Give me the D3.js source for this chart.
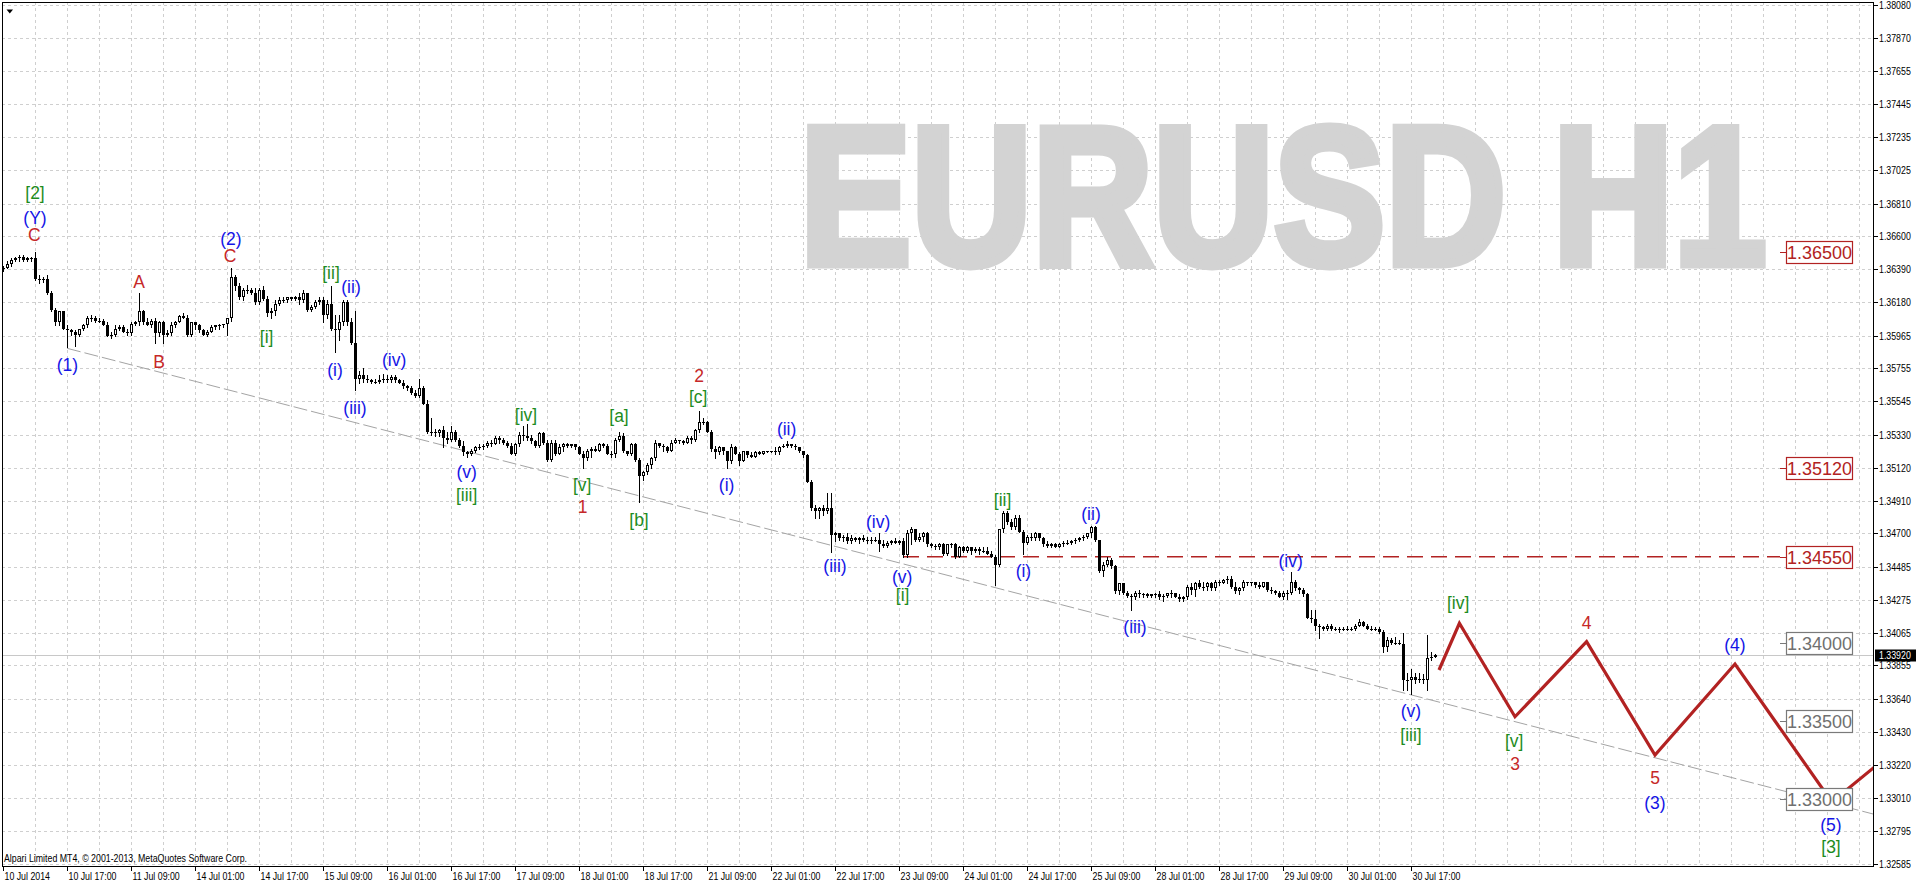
<!DOCTYPE html>
<html><head><meta charset="utf-8">
<script src="https://cdn.jsdelivr.net/npm/d3@7"></script>
<style>html,body{margin:0;padding:0;background:#fff;overflow:hidden}svg{display:block}</style>
</head><body>
<svg id="chart" width="1916" height="884"></svg>
<script>
// ---------------- DATA ----------------
const opens = [
1.3639,1.3640,1.3642,1.3645,1.3646,1.3647,1.3645,1.3646,1.3646,1.3633,
1.3632,1.3633,1.3624,1.3613,1.3605,1.3612,1.3601,1.3600,1.3599,1.3597,
1.3601,1.3603,1.3608,1.3608,1.3606,1.3606,1.3603,1.3596,1.3597,1.3601,
1.3602,1.3599,1.3598,1.3604,1.3605,1.3612,1.3605,1.3603,1.3606,1.3598,
1.3605,1.3597,1.3598,1.3603,1.3605,1.3609,1.3608,1.3597,1.3605,1.3603,
1.3600,1.3597,1.3599,1.3602,1.3603,1.3603,1.3604,1.3608,1.3634,1.3628,
1.3621,1.3626,1.3626,1.3624,1.3618,1.3626,1.3620,1.3611,1.3612,1.3617,
1.3619,1.3619,1.3621,1.3620,1.3621,1.3619,1.3624,1.3613,1.3615,1.3618,
1.3619,1.3610,1.3617,1.3601,1.3600,1.3605,1.3618,1.3605,1.3592,1.3569,
1.3571,1.3569,1.3568,1.3567,1.3567,1.3568,1.3569,1.3568,1.3570,1.3568,
1.3566,1.3564,1.3563,1.3560,1.3558,1.3563,1.3553,1.3535,1.3535,1.3534,
1.3536,1.3531,1.3530,1.3535,1.3530,1.3526,1.3522,1.3521,1.3523,1.3525,
1.3525,1.3526,1.3528,1.3527,1.3531,1.3530,1.3528,1.3526,1.3521,1.3527,
1.3533,1.3532,1.3531,1.3529,1.3526,1.3534,1.3528,1.3517,1.3528,1.3521,
1.3525,1.3527,1.3526,1.3527,1.3525,1.3521,1.3518,1.3523,1.3524,1.3523,
1.3527,1.3526,1.3521,1.3521,1.3530,1.3532,1.3523,1.3521,1.3527,1.3517,
1.3507,1.3509,1.3514,1.3518,1.3528,1.3526,1.3525,1.3523,1.3528,1.3530,
1.3529,1.3528,1.3531,1.3530,1.3536,1.3541,1.3541,1.3535,1.3524,1.3522,
1.3525,1.3523,1.3516,1.3525,1.3521,1.3516,1.3523,1.3520,1.3519,1.3522,
1.3521,1.3523,1.3523,1.3523,1.3522,1.3525,1.3526,1.3527,1.3526,1.3525,
1.3523,1.3520,1.3503,1.3486,1.3484,1.3486,1.3484,1.3486,1.3469,1.3470,
1.3467,1.3468,1.3465,1.3467,1.3466,1.3467,1.3466,1.3466,1.3466,1.3466,
1.3463,1.3462,1.3464,1.3465,1.3464,1.3465,1.3456,1.3470,1.3473,1.3466,
1.3468,1.3470,1.3463,1.3462,1.3461,1.3463,1.3457,1.3463,1.3463,1.3455,
1.3461,1.3459,1.3461,1.3459,1.3460,1.3459,1.3459,1.3457,1.3455,1.3450,
1.3473,1.3483,1.3477,1.3474,1.3480,1.3471,1.3464,1.3468,1.3467,1.3470,
1.3467,1.3463,1.3462,1.3463,1.3461,1.3463,1.3464,1.3464,1.3465,1.3466,
1.3467,1.3468,1.3470,1.3474,1.3466,1.3446,1.3450,1.3453,1.3449,1.3433,
1.3438,1.3432,1.3430,1.3429,1.3432,1.3431,1.3431,1.3430,1.3431,1.3431,
1.3429,1.3430,1.3432,1.3432,1.3429,1.3428,1.3429,1.3436,1.3434,1.3438,
1.3436,1.3436,1.3438,1.3435,1.3439,1.3438,1.3440,1.3441,1.3436,1.3433,
1.3435,1.3439,1.3438,1.3439,1.3437,1.3436,1.3439,1.3434,1.3433,1.3432,
1.3429,1.3432,1.3432,1.3439,1.3435,1.3434,1.3431,1.3416,1.3415,1.3411,
1.3410,1.3409,1.3411,1.3409,1.3409,1.3408,1.3409,1.3409,1.3409,1.3411,
1.3413,1.3411,1.3409,1.3408,1.3409,1.3407,1.3397,1.3402,1.3400,1.3400,
1.3399,1.3376,1.3376,1.3378,1.3376,1.3377,1.3376,1.3390,1.3391];
const highs = [
1.3641,1.3644,1.3646,1.3647,1.3648,1.3648,1.3647,1.3647,1.3650,1.3635,
1.3634,1.3635,1.3625,1.3614,1.3612,1.3612,1.3603,1.3601,1.3600,1.3601,
1.3604,1.3609,1.3610,1.3609,1.3608,1.3607,1.3605,1.3599,1.3603,1.3603,
1.3603,1.3601,1.3605,1.3606,1.3624,1.3613,1.3608,1.3607,1.3608,1.3606,
1.3606,1.3600,1.3605,1.3606,1.3610,1.3611,1.3610,1.3605,1.3605,1.3604,
1.3601,1.3600,1.3603,1.3603,1.3604,1.3604,1.3608,1.3640,1.3635,1.3630,
1.3627,1.3629,1.3627,1.3627,1.3627,1.3628,1.3622,1.3614,1.3619,1.3621,
1.3621,1.3621,1.3621,1.3622,1.3624,1.3626,1.3624,1.3616,1.3619,1.3621,
1.3621,1.3619,1.3628,1.3610,1.3610,1.3619,1.3619,1.3608,1.3612,1.3574,
1.3576,1.3571,1.3569,1.3569,1.3571,1.3572,1.3571,1.3571,1.3571,1.3569,
1.3568,1.3565,1.3564,1.3562,1.3569,1.3564,1.3555,1.3544,1.3537,1.3537,
1.3539,1.3535,1.3539,1.3536,1.3531,1.3529,1.3523,1.3524,1.3526,1.3527,
1.3527,1.3529,1.3530,1.3532,1.3532,1.3531,1.3529,1.3528,1.3528,1.3535,
1.3539,1.3540,1.3533,1.3530,1.3535,1.3535,1.3530,1.3530,1.3530,1.3527,
1.3528,1.3528,1.3527,1.3527,1.3526,1.3523,1.3524,1.3525,1.3526,1.3528,
1.3528,1.3527,1.3523,1.3531,1.3535,1.3534,1.3523,1.3528,1.3528,1.3518,
1.3510,1.3515,1.3519,1.3530,1.3528,1.3527,1.3526,1.3530,1.3531,1.3530,
1.3530,1.3532,1.3532,1.3537,1.3548,1.3544,1.3542,1.3536,1.3526,1.3526,
1.3525,1.3523,1.3527,1.3526,1.3522,1.3523,1.3523,1.3522,1.3523,1.3523,
1.3523,1.3523,1.3523,1.3525,1.3526,1.3527,1.3529,1.3527,1.3527,1.3525,
1.3523,1.3521,1.3504,1.3488,1.3487,1.3488,1.3496,1.3496,1.3471,1.3470,
1.3469,1.3470,1.3469,1.3468,1.3468,1.3469,1.3468,1.3468,1.3468,1.3470,
1.3466,1.3465,1.3466,1.3467,1.3466,1.3467,1.3472,1.3474,1.3473,1.3470,
1.3471,1.3471,1.3464,1.3463,1.3464,1.3464,1.3463,1.3464,1.3464,1.3462,
1.3462,1.3462,1.3461,1.3461,1.3461,1.3461,1.3461,1.3459,1.3456,1.3473,
1.3484,1.3484,1.3479,1.3482,1.3482,1.3472,1.3469,1.3470,1.3471,1.3470,
1.3468,1.3465,1.3464,1.3464,1.3464,1.3465,1.3466,1.3466,1.3467,1.3468,
1.3469,1.3470,1.3475,1.3475,1.3466,1.3452,1.3455,1.3454,1.3450,1.3438,
1.3438,1.3433,1.3431,1.3433,1.3434,1.3432,1.3432,1.3431,1.3432,1.3433,
1.3431,1.3432,1.3434,1.3432,1.3431,1.3430,1.3437,1.3438,1.3439,1.3440,
1.3439,1.3439,1.3439,1.3440,1.3440,1.3441,1.3443,1.3443,1.3439,1.3436,
1.3440,1.3439,1.3439,1.3439,1.3439,1.3439,1.3439,1.3436,1.3434,1.3433,
1.3433,1.3434,1.3445,1.3440,1.3436,1.3435,1.3432,1.3421,1.3421,1.3412,
1.3411,1.3412,1.3412,1.3410,1.3410,1.3410,1.3411,1.3410,1.3412,1.3415,
1.3414,1.3412,1.3411,1.3410,1.3410,1.3408,1.3404,1.3403,1.3404,1.3402,
1.3406,1.3381,1.3383,1.3381,1.3381,1.3380,1.3405,1.3394,1.3393];
const lows = [
1.3638,1.3640,1.3641,1.3644,1.3644,1.3644,1.3644,1.3644,1.3632,1.3630,
1.3631,1.3623,1.3612,1.3603,1.3603,1.3601,1.3589,1.3597,1.3590,1.3596,
1.3600,1.3602,1.3606,1.3605,1.3605,1.3603,1.3596,1.3595,1.3596,1.3600,
1.3599,1.3597,1.3597,1.3603,1.3603,1.3604,1.3603,1.3602,1.3592,1.3596,
1.3592,1.3596,1.3597,1.3602,1.3605,1.3608,1.3596,1.3596,1.3601,1.3599,
1.3597,1.3596,1.3599,1.3601,1.3601,1.3602,1.3597,1.3606,1.3626,1.3620,
1.3619,1.3624,1.3623,1.3617,1.3617,1.3619,1.3609,1.3608,1.3610,1.3616,
1.3618,1.3618,1.3619,1.3619,1.3617,1.3618,1.3612,1.3612,1.3614,1.3617,
1.3605,1.3608,1.3600,1.3586,1.3594,1.3603,1.3603,1.3591,1.3562,1.3566,
1.3567,1.3567,1.3566,1.3566,1.3566,1.3567,1.3567,1.3567,1.3567,1.3566,
1.3563,1.3562,1.3559,1.3557,1.3557,1.3553,1.3534,1.3533,1.3532,1.3532,
1.3525,1.3528,1.3529,1.3529,1.3525,1.3520,1.3519,1.3520,1.3522,1.3524,
1.3524,1.3525,1.3526,1.3527,1.3528,1.3527,1.3525,1.3521,1.3520,1.3526,
1.3530,1.3530,1.3528,1.3525,1.3525,1.3527,1.3516,1.3516,1.3520,1.3521,
1.3523,1.3525,1.3525,1.3524,1.3521,1.3512,1.3517,1.3519,1.3523,1.3523,
1.3525,1.3521,1.3519,1.3519,1.3529,1.3522,1.3520,1.3520,1.3516,1.3490,
1.3504,1.3508,1.3512,1.3517,1.3525,1.3523,1.3522,1.3523,1.3528,1.3528,
1.3527,1.3528,1.3528,1.3529,1.3535,1.3540,1.3535,1.3523,1.3518,1.3521,
1.3521,1.3512,1.3515,1.3521,1.3514,1.3516,1.3519,1.3519,1.3519,1.3521,
1.3521,1.3522,1.3522,1.3521,1.3521,1.3525,1.3525,1.3525,1.3524,1.3522,
1.3519,1.3503,1.3485,1.3480,1.3480,1.3482,1.3483,1.3458,1.3465,1.3466,
1.3465,1.3464,1.3464,1.3465,1.3464,1.3465,1.3464,1.3464,1.3465,1.3459,
1.3461,1.3461,1.3463,1.3464,1.3463,1.3455,1.3455,1.3463,1.3465,1.3465,
1.3465,1.3462,1.3461,1.3460,1.3460,1.3456,1.3456,1.3461,1.3454,1.3455,
1.3458,1.3458,1.3457,1.3458,1.3457,1.3458,1.3457,1.3455,1.3437,1.3449,
1.3471,1.3476,1.3473,1.3473,1.3471,1.3457,1.3463,1.3466,1.3466,1.3466,
1.3462,1.3461,1.3461,1.3461,1.3461,1.3462,1.3463,1.3463,1.3464,1.3465,
1.3466,1.3467,1.3468,1.3465,1.3445,1.3443,1.3449,1.3448,1.3432,1.3431,
1.3431,1.3429,1.3421,1.3428,1.3429,1.3429,1.3429,1.3429,1.3429,1.3428,
1.3427,1.3429,1.3429,1.3429,1.3427,1.3427,1.3428,1.3431,1.3430,1.3435,
1.3434,1.3434,1.3434,1.3434,1.3437,1.3438,1.3438,1.3435,1.3432,1.3431,
1.3434,1.3437,1.3437,1.3436,1.3435,1.3436,1.3433,1.3432,1.3431,1.3429,
1.3428,1.3428,1.3431,1.3434,1.3432,1.3430,1.3416,1.3413,1.3408,1.3403,
1.3408,1.3408,1.3408,1.3408,1.3407,1.3408,1.3408,1.3408,1.3408,1.3411,
1.3411,1.3409,1.3408,1.3408,1.3406,1.3394,1.3395,1.3399,1.3399,1.3399,
1.3370,1.3370,1.3367,1.3374,1.3375,1.3374,1.3370,1.3389,1.3391];
const closes = [
1.3640,1.3642,1.3645,1.3646,1.3647,1.3645,1.3646,1.3646,1.3633,1.3632,
1.3633,1.3624,1.3613,1.3605,1.3612,1.3601,1.3600,1.3599,1.3597,1.3601,
1.3603,1.3608,1.3608,1.3606,1.3606,1.3603,1.3596,1.3597,1.3601,1.3602,
1.3599,1.3598,1.3604,1.3605,1.3612,1.3605,1.3603,1.3606,1.3598,1.3605,
1.3597,1.3598,1.3603,1.3605,1.3609,1.3608,1.3597,1.3605,1.3603,1.3600,
1.3597,1.3599,1.3602,1.3603,1.3603,1.3604,1.3608,1.3634,1.3628,1.3621,
1.3626,1.3626,1.3624,1.3618,1.3626,1.3620,1.3611,1.3612,1.3617,1.3619,
1.3619,1.3621,1.3620,1.3621,1.3619,1.3624,1.3613,1.3615,1.3618,1.3619,
1.3610,1.3617,1.3601,1.3600,1.3605,1.3618,1.3605,1.3592,1.3569,1.3571,
1.3569,1.3568,1.3567,1.3567,1.3568,1.3569,1.3568,1.3570,1.3568,1.3566,
1.3564,1.3563,1.3560,1.3558,1.3563,1.3553,1.3535,1.3535,1.3534,1.3536,
1.3531,1.3530,1.3535,1.3530,1.3526,1.3522,1.3521,1.3523,1.3525,1.3525,
1.3526,1.3528,1.3527,1.3531,1.3530,1.3528,1.3526,1.3521,1.3527,1.3533,
1.3532,1.3531,1.3529,1.3526,1.3534,1.3528,1.3517,1.3528,1.3521,1.3525,
1.3527,1.3526,1.3527,1.3525,1.3521,1.3518,1.3523,1.3524,1.3523,1.3527,
1.3526,1.3521,1.3521,1.3530,1.3532,1.3523,1.3521,1.3527,1.3517,1.3507,
1.3509,1.3514,1.3518,1.3528,1.3526,1.3525,1.3523,1.3528,1.3530,1.3529,
1.3528,1.3531,1.3530,1.3536,1.3541,1.3541,1.3535,1.3524,1.3522,1.3525,
1.3523,1.3516,1.3525,1.3521,1.3516,1.3523,1.3520,1.3519,1.3522,1.3521,
1.3523,1.3523,1.3523,1.3522,1.3525,1.3526,1.3527,1.3526,1.3525,1.3523,
1.3520,1.3503,1.3486,1.3484,1.3486,1.3484,1.3486,1.3469,1.3470,1.3467,
1.3468,1.3465,1.3467,1.3466,1.3467,1.3466,1.3466,1.3466,1.3466,1.3463,
1.3462,1.3464,1.3465,1.3464,1.3465,1.3456,1.3470,1.3473,1.3466,1.3468,
1.3470,1.3463,1.3462,1.3461,1.3463,1.3457,1.3463,1.3463,1.3455,1.3461,
1.3459,1.3461,1.3459,1.3460,1.3459,1.3459,1.3457,1.3455,1.3450,1.3473,
1.3483,1.3477,1.3474,1.3480,1.3471,1.3464,1.3468,1.3467,1.3470,1.3467,
1.3463,1.3462,1.3463,1.3461,1.3463,1.3464,1.3464,1.3465,1.3466,1.3467,
1.3468,1.3470,1.3474,1.3466,1.3446,1.3450,1.3453,1.3449,1.3433,1.3438,
1.3432,1.3430,1.3429,1.3432,1.3431,1.3431,1.3430,1.3431,1.3431,1.3429,
1.3430,1.3432,1.3432,1.3429,1.3428,1.3429,1.3436,1.3434,1.3438,1.3436,
1.3436,1.3438,1.3435,1.3439,1.3438,1.3440,1.3441,1.3436,1.3433,1.3435,
1.3439,1.3438,1.3439,1.3437,1.3436,1.3439,1.3434,1.3433,1.3432,1.3429,
1.3432,1.3432,1.3439,1.3435,1.3434,1.3431,1.3416,1.3415,1.3411,1.3410,
1.3409,1.3411,1.3409,1.3409,1.3408,1.3409,1.3409,1.3409,1.3411,1.3413,
1.3411,1.3409,1.3408,1.3409,1.3407,1.3397,1.3402,1.3400,1.3400,1.3399,
1.3376,1.3376,1.3378,1.3376,1.3377,1.3376,1.3390,1.3391,1.3392];

const timeLabels = ["10 Jul 2014","10 Jul 17:00","11 Jul 09:00","14 Jul 01:00","14 Jul 17:00","15 Jul 09:00",
  "16 Jul 01:00","16 Jul 17:00","17 Jul 09:00","18 Jul 01:00","18 Jul 17:00","21 Jul 09:00","22 Jul 01:00",
  "22 Jul 17:00","23 Jul 09:00","24 Jul 01:00","24 Jul 17:00","25 Jul 09:00","28 Jul 01:00","28 Jul 17:00",
  "29 Jul 09:00","30 Jul 01:00","30 Jul 17:00"];
const barsPerTimeLabel = 16;
const priceTickLabels = ["1.38080","1.37870","1.37655","1.37445","1.37235","1.37025","1.36810","1.36600",
  "1.36390","1.36180","1.35965","1.35755","1.35545","1.35330","1.35120","1.34910","1.34700","1.34485",
  "1.34275","1.34065","1.33855","1.33640","1.33430","1.33220","1.33010","1.32795","1.32585"];
const currentPrice = 1.33920;

// Elliott wave labels
const waveText   = ["[2]","(Y)","C","A","B","(1)","(2)","C","[i]","[ii]","(i)","(ii)","(iii)","(iv)","(v)","[iii]",
  "[iv]","[v]","1","[a]","[b]","[c]","2","(i)","(ii)","(iii)","(iv)","(v)","[i]","[ii]","(i)","(ii)","(iii)","(iv)",
  "(v)","[iii]","[iv]","[v]","3","4","5","(3)","(4)","(5)","[3]"];
const waveBar    = [8,8,7.8,34,39,16.1,57,56.75,65.9,82,83,87,88,97.8,115.9,115.9,
  130.75,144.8,144.9,154,159,173.8,174,180.9,195.9,208,218.8,224.8,224.9,249.9,255.1,272,283,321.9,
  352,352,363.8,377.8,378,395.9,413,413,433,457,457];
const wavePrice  = [1.36875,1.36716,1.36609,1.36310,1.35798,1.35777,1.36581,1.36474,1.35958,1.36364,1.35745,1.36274,1.35500,1.35809,1.35095,1.34945,
  1.35457,1.35009,1.34867,1.35453,1.34786,1.35574,1.35707,1.35009,1.35368,1.34491,1.34775,1.34420,1.34305,1.34913,1.34461,1.34824,1.34103,1.34525,
  1.33564,1.33410,1.34255,1.33374,1.33225,1.34129,1.33137,1.32973,1.33986,1.32834,1.32692];
const waveDegree = ["g","b","r","r","r","b","b","r","g","g","b","b","b","b","b","g",
  "g","g","r","g","g","g","r","b","b","b","b","b","g","g","b","b","b","b",
  "b","g","g","g","r","r","r","b","b","b","g"];

// projected path
const projBars   = [359, 364.1, 378, 395.9, 413, 433, 457.2, 470];
const projPrices = [1.33826, 1.34125, 1.33527, 1.34007, 1.33282, 1.33864, 1.32982, 1.33250];
// trend line
const trendBars   = [16, 467.5];
const trendPrices = [1.35884, 1.32905];
// resistance line
const resistPrice = 1.34550, resistFromBar = 225;
// level labels
const levelPrices = [1.36500, 1.35120, 1.34550, 1.34000, 1.33500, 1.33000];
const levelKinds  = ["red","red","red","grey","grey","grey"];

const titleText = "EURUSD H1";
const copyrightText = "Alpari Limited MT4, \u00A9 2001-2013, MetaQuotes Software Corp.";

// ---------------- DRAW ----------------
const W = 1916, H = 884;
const P = {left: 2, top: 2, right: 1873, bottom: 866};
const x = d3.scaleLinear().domain([0, 467.5]).range([3, 1873]);
const y = d3.scaleLinear().domain([1.32585, 1.38080]).range([864, 5]);
const baseFont = "'Liberation Sans', Arial, sans-serif";
const waveColors = {g: "#1E8C1E", b: "#1414E6", r: "#C62828"};
const RED = "#B22222", GREY_TXT = "#707070", GREY_BOX = "#7A7A7A";
const SMALL_SX = 0.8;   // MT4 small axis font is narrow

const svg = d3.select("#chart");
svg.append("rect").attr("width", W).attr("height", H).attr("fill", "#fff");
svg.append("defs").append("clipPath").attr("id", "plotClip")
  .append("rect").attr("x", P.left).attr("y", P.top).attr("width", P.right - P.left).attr("height", P.bottom - P.top);

function smallText(parent, tx, ty, str, fill) {
  parent.append("g").attr("transform", `translate(${tx},${ty}) scale(${SMALL_SX},1)`)
    .append("text").attr("x", 0).attr("y", 0).attr("dominant-baseline", "central")
    .attr("font-family", baseFont).attr("font-size", 11).attr("fill", fill).text(str);
}

// grid
const grid = svg.append("g").attr("stroke", "#CFCFCF").attr("stroke-dasharray", "3,3").attr("shape-rendering", "crispEdges");
priceTickLabels.forEach(t => {
  const yy = Math.round(y(+t)) + 0.5;
  grid.append("line").attr("x1", P.left).attr("x2", P.right).attr("y1", yy).attr("y2", yy);
});
d3.range(8, 468, 8).forEach(b => {
  const xx = Math.round(x(b)) + 0.5;
  if (xx < P.right) grid.append("line").attr("x1", xx).attr("x2", xx).attr("y1", P.top).attr("y2", P.bottom);
});

// title, fitted to its ink box via canvas metrics (with a thickening stroke)
(function() {
  const ctx = document.createElement("canvas").getContext("2d");
  ctx.font = "bold 100px " + baseFont;
  const m = ctx.measureText(titleText);
  const inkL = -m.actualBoundingBoxLeft, inkR = m.actualBoundingBoxRight;
  const asc = m.actualBoundingBoxAscent, desc = m.actualBoundingBoxDescent;
  const sw = 4.5; // stroke width in text units
  const box = {x0: 806, x1: 1766, y0: 122, y1: 270};
  // solve scale so that ink + stroke fits the box
  const sx = (box.x1 - box.x0) / (inkR - inkL + sw);
  const sy = (box.y1 - box.y0) / (asc + desc + sw);
  const tx = box.x0 + (sw / 2 - inkL) * sx;
  const ty = box.y1 - (desc + sw / 2) * sy;
  svg.append("text")
    .attr("transform", `translate(${tx},${ty}) scale(${sx},${sy})`)
    .attr("x", 0).attr("y", 0).attr("font-family", baseFont).attr("font-weight", "bold")
    .attr("font-size", 100).attr("fill", "#D3D3D3")
    .attr("stroke", "#D3D3D3").attr("stroke-width", sw).attr("stroke-linejoin", "miter")
    .text(titleText);
})();

const plotG = svg.append("g").attr("clip-path", "url(#plotClip)");

// current price line
plotG.append("line").attr("x1", P.left).attr("x2", P.right)
  .attr("y1", Math.round(y(currentPrice)) + 0.5).attr("y2", Math.round(y(currentPrice)) + 0.5)
  .attr("stroke", "#C8C8C8").attr("stroke-width", 1);

// trend line
plotG.append("path")
  .attr("d", d3.line().x((d, i) => x(trendBars[i])).y((d, i) => y(trendPrices[i]))(trendBars))
  .attr("fill", "none").attr("stroke", "#A4A4A4").attr("stroke-width", 1).attr("stroke-dasharray", "14,4");

// resistance dashed line
plotG.append("line").attr("x1", x(resistFromBar)).attr("x2", 1780)
  .attr("y1", y(resistPrice)).attr("y2", y(resistPrice))
  .attr("stroke", RED).attr("stroke-width", 1.5).attr("stroke-dasharray", "16,8");

// candles
const bars = closes.map((c, i) => ({i, o: opens[i], h: highs[i], l: lows[i], c}));
const cg = plotG.append("g");
cg.selectAll("line.wick").data(bars).join("line").attr("class", "wick")
  .attr("x1", d => Math.round(x(d.i)) + 0.5).attr("x2", d => Math.round(x(d.i)) + 0.5)
  .attr("y1", d => Math.round(y(d.h))).attr("y2", d => Math.round(y(d.l)) + 1)
  .attr("stroke", "#000").attr("stroke-width", 1);
cg.selectAll("rect.body").data(bars).join("rect").attr("class", "body")
  .each(function(d) {
    const cx = Math.round(x(d.i));
    const top = Math.round(y(Math.max(d.o, d.c)));
    const bot = Math.round(y(Math.min(d.o, d.c)));
    const r = d3.select(this);
    if (d.c > d.o && bot - top >= 2) {
      r.attr("x", cx - 0.5).attr("width", 2).attr("y", top + 0.5).attr("height", bot - top - 1)
        .attr("fill", "#fff").attr("stroke", "#000").attr("stroke-width", 1);
    } else {
      r.attr("x", cx - 1).attr("width", 3).attr("y", top).attr("height", Math.max(1, bot - top)).attr("fill", "#000");
    }
  });

// projection zigzag
plotG.append("path")
  .attr("d", d3.line().x((d, i) => x(projBars[i])).y((d, i) => y(projPrices[i]))(projBars))
  .attr("fill", "none").attr("stroke", RED).attr("stroke-width", 3.2).attr("stroke-linejoin", "miter");

// wave labels
svg.append("g").selectAll("text").data(waveText).join("text")
  .attr("x", (d, i) => x(waveBar[i])).attr("y", (d, i) => y(wavePrice[i]))
  .attr("text-anchor", "middle").attr("dominant-baseline", "central")
  .attr("font-family", baseFont).attr("font-size", 17.5)
  .attr("fill", (d, i) => waveColors[waveDegree[i]]).text(d => d);

// level label boxes
levelPrices.forEach((p, i) => {
  const yy = Math.round(y(p)) + 0.5;
  const col = levelKinds[i] === "red" ? RED : GREY_BOX;
  const tcol = levelKinds[i] === "red" ? RED : GREY_TXT;
  svg.append("line").attr("x1", 1780).attr("x2", 1786).attr("y1", yy).attr("y2", yy).attr("stroke", col);
  svg.append("rect").attr("x", 1786.5).attr("y", yy - 11).attr("width", 66).attr("height", 22)
    .attr("fill", "#fff").attr("stroke", col).attr("stroke-width", 1.2);
  svg.append("text").attr("x", 1819.5).attr("y", yy + 0.5).attr("text-anchor", "middle").attr("dominant-baseline", "central")
    .attr("font-family", baseFont).attr("font-size", 18).attr("fill", tcol)
    .text(p.toFixed(5));
});

// frame
const frame = svg.append("g").attr("stroke", "#000").attr("shape-rendering", "crispEdges");
frame.append("line").attr("x1", P.left + 0.5).attr("x2", P.left + 0.5).attr("y1", P.top).attr("y2", P.bottom + 1);
frame.append("line").attr("x1", P.left).attr("x2", P.right + 1).attr("y1", P.top + 0.5).attr("y2", P.top + 0.5);
frame.append("line").attr("x1", P.right + 0.5).attr("x2", P.right + 0.5).attr("y1", P.top).attr("y2", P.bottom + 1);
frame.append("line").attr("x1", P.left).attr("x2", P.right + 1).attr("y1", P.bottom + 0.5).attr("y2", P.bottom + 0.5);

// shift marker
svg.append("path").attr("d", "M6.5,9.5 h6.5 l-3.25,4 z").attr("fill", "#000");

// price axis
const pa = svg.append("g");
priceTickLabels.forEach(t => {
  const yy = Math.round(y(+t)) + 0.5;
  pa.append("line").attr("x1", P.right + 1).attr("x2", P.right + 5).attr("y1", yy).attr("y2", yy).attr("stroke", "#000");
  smallText(pa, 1879, yy, t, "#000");
});
const cpy = Math.round(y(currentPrice)) + 0.5;
pa.append("rect").attr("x", 1875).attr("y", cpy - 6).attr("width", 41).attr("height", 12).attr("fill", "#000");
smallText(pa, 1879, cpy, currentPrice.toFixed(5), "#fff");

// time axis
const ta = svg.append("g");
timeLabels.forEach((t, k) => {
  const xx = Math.round(x(k * barsPerTimeLabel)) + 0.5;
  ta.append("line").attr("x1", xx).attr("x2", xx).attr("y1", P.bottom + 1).attr("y2", P.bottom + 5).attr("stroke", "#000");
  smallText(ta, xx + 1, 876, t, "#000");
});

// copyright
smallText(svg, 4, 858, copyrightText, "#000");
</script>
</body></html>
